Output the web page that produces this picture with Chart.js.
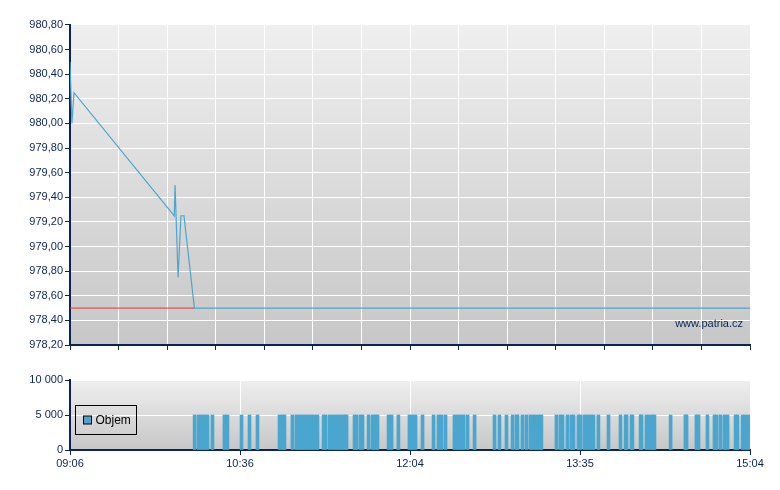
<!DOCTYPE html>
<html><head><meta charset="utf-8">
<script src="https://cdn.jsdelivr.net/npm/chart.js@4/dist/chart.umd.min.js"></script>
<style>
html,body{margin:0;padding:0;background:#fff;width:780px;height:490px;overflow:hidden}
#w1{position:absolute;left:0;top:0;width:780px;height:360px}
#w2{position:absolute;left:0;top:360px;width:780px;height:130px}
</style></head><body>
<div id="w1"><canvas id="c1"></canvas></div>
<div id="w2"><canvas id="c2"></canvas></div>
<script>
// session: minutes after 09:06
const sessionMinutes = 358;
const timeLabels = ["09:06","10:36","12:04","13:35","15:04"];
const topGridDivisions = 14;

// price (minutes after 09:06)
const priceTimes  = [0, 1.0, 2.1, 54.9, 55.3, 56.9, 58.4, 60.0, 65.5, 358];
const priceValues = [980.50, 980.00, 980.25, 979.25, 979.50, 978.75, 979.25, 979.25, 978.50, 978.50];
const prevCloseTimes = [0, 65.5];
const prevClose = 978.50;
const priceMin = 978.2, priceMax = 980.8, priceStep = 0.2;

// volume trades (minutes after 09:06)
const volumeTimes = [
 65.6, 67.7, 69.2, 70.8, 72.4, 75.0, 81.3, 82.9, 90.3, 94.5, 98.7,
 110.3, 111.9, 112.9, 117.1, 119.2, 120.8, 122.4, 124.0, 125.6, 127.1, 128.7, 130.3,
 133.5, 134.5, 136.6, 138.2, 139.8, 141.4, 142.9, 144.5, 145.6,
 149.8, 150.8, 152.9, 154.0, 157.2, 159.3, 160.8, 161.9, 167.7, 169.3, 172.9,
 178.7, 180.3, 181.9, 185.6, 191.4, 194.0, 195.6, 197.7,
 202.4, 204.0, 205.6, 207.2, 209.3, 213.0,
 223.5, 226.1, 229.8, 233.0, 235.1, 235.6, 238.2, 240.3,
 242.4, 244.0, 245.6, 247.2, 248.2,
 256.1, 258.2, 259.3, 261.9, 264.0, 265.1, 267.7, 268.8,
 270.9, 272.5, 274.0, 275.6, 278.2, 283.5,
 289.8, 292.5, 293.0, 295.6, 296.1, 300.4, 300.9,
 303.5, 305.1, 306.7, 307.7, 316.2,
 324.0, 324.6, 329.8, 330.9, 335.6, 339.3, 340.4, 342.5,
 344.6, 346.2, 350.4, 351.4, 354.1, 355.6, 357.2
];
const volumeValues = [
 5000,5000,5000,5000,5000,5000,5000,5000,5000,5000,5000,
 5000,5000,5000,5000,5000,5000,5000,5000,5000,5000,5000,5000,
 5000,5000,5000,5000,5000,5000,5000,5000,5000,
 5000,5000,5000,5000,5000,5000,5000,5000,5000,5000,5000,
 5000,5000,5000,5000,5000,5000,5000,5000,
 5000,5000,5000,5000,5000,5000,
 5000,5000,5000,5000,5000,5000,5000,5000,
 5000,5000,5000,5000,5000,
 5000,5000,5000,5000,5000,5000,5000,5000,
 5000,5000,5000,5000,5000,5000,
 5000,5000,5000,5000,5000,5000,5000,
 5000,5000,5000,5000,5000,
 5000,5000,5000,5000,5000,5000,5000,5000,
 5000,5000,5000,5000,5000,5000,5000
];
const volMax = 10000, volStep = 5000;
const volumeLabel = "Objem";
const watermark = "www.patria.cz";

const NAVY = '#0b2458';
const LINE = '#4aa6cf';
const FONT = {family:'"Liberation Sans", Arial, sans-serif', size:11};

const bgPlugin = {
  id:'bg',
  beforeDraw(chart){
    const {ctx, chartArea:a} = chart;
    const g = ctx.createLinearGradient(0,a.top,0,a.bottom);
    g.addColorStop(0,'#efefef'); g.addColorStop(1,'#c7c7c7');
    ctx.save(); ctx.fillStyle=g; ctx.fillRect(a.left,a.top,a.right-a.left,a.bottom-a.top); ctx.restore();
  }
};

const wmPlugin = {
  id:'wm',
  afterDatasetsDraw(chart){
    const {ctx, chartArea:a} = chart;
    ctx.save();
    ctx.font = '11px "Liberation Sans", Arial, sans-serif';
    ctx.fillStyle = NAVY; ctx.textAlign='right'; ctx.textBaseline='alphabetic';
    ctx.fillText(watermark, a.right-7, a.bottom-18);
    ctx.restore();
  }
};

const legendPlugin = {
  id:'lg',
  afterDraw(chart){
    const {ctx, chartArea:a} = chart;
    ctx.save();
    const x = a.left+5.5, y = a.top+25.5;
    ctx.strokeStyle='#000'; ctx.lineWidth=1;
    ctx.strokeRect(x, y, 61, 29);
    ctx.fillStyle=LINE; ctx.fillRect(x+8, y+10.5, 8, 8);
    ctx.strokeRect(x+8, y+10.5, 8, 8);
    ctx.font='12px "Liberation Sans", Arial, sans-serif';
    ctx.fillStyle='#000'; ctx.textBaseline='middle'; ctx.textAlign='left';
    ctx.fillText(chart.data.datasets[0].label, x+20, y+15);
    ctx.restore();
  }
};

function pts(xs, ys){ return xs.map((x,i)=>({x:x, y:ys[i]})); }

new Chart(document.getElementById('c1'), {
  type:'line',
  data:{datasets:[
    {label:'Cena', data:pts(priceTimes, priceValues), borderColor:LINE, borderWidth:1.2, pointRadius:0, tension:0, fill:false},
    {label:'Předchozí závěr', data:pts(prevCloseTimes, prevCloseTimes.map(()=>prevClose)), borderColor:'#e53030', borderWidth:1, pointRadius:0, fill:false}
  ]},
  options:{
    responsive:true, maintainAspectRatio:false, animation:false,
    layout:{padding:{top:25,right:30,left:0,bottom:0}},
    plugins:{legend:{display:false}, tooltip:{enabled:false}},
    scales:{
      x:{type:'linear', min:0, max:sessionMinutes,
        afterBuildTicks(s){ const t=[]; for(let i=0;i<=topGridDivisions;i++) t.push({value:i*sessionMinutes/topGridDivisions}); s.ticks=t; },
        afterFit(s){ s.height=15; },
        ticks:{callback:()=>'', font:FONT, color:NAVY},
        grid:{color:'#ffffff', lineWidth:1, tickColor:NAVY, tickLength:5},
        border:{color:NAVY, width:2}
      },
      y:{type:'linear', min:priceMin, max:priceMax,
        afterBuildTicks(s){ const t=[]; const n=Math.round((priceMax-priceMin)/priceStep); for(let i=0;i<=n;i++) t.push({value:priceMin+i*priceStep}); s.ticks=t; },
        afterFit(s){ s.width=70; },
        ticks:{font:FONT, color:NAVY, padding:2, callback:v=>v.toFixed(2).replace('.',',')},
        grid:{color:'#ffffff', lineWidth:1, tickColor:NAVY, tickLength:5},
        border:{color:NAVY, width:2}
      }
    }
  },
  plugins:[bgPlugin, wmPlugin]
});

new Chart(document.getElementById('c2'), {
  type:'bar',
  data:{datasets:[
    {label:volumeLabel, data:pts(volumeTimes, volumeValues), backgroundColor:LINE, borderWidth:0, barThickness:3}
  ]},
  options:{
    responsive:true, maintainAspectRatio:false, animation:false,
    layout:{padding:{top:20,right:30,left:0,bottom:0}},
    plugins:{legend:{display:false}, tooltip:{enabled:false}},
    scales:{
      x:{type:'linear', min:0, max:sessionMinutes, offset:false,
        afterBuildTicks(s){ s.ticks = timeLabels.map((l,i)=>({value:i*sessionMinutes/(timeLabels.length-1)})); },
        afterFit(s){ s.height=40; },
        ticks:{font:FONT, color:NAVY, padding:2, maxRotation:0, autoSkip:false, callback:(v,i)=>timeLabels[i]},
        grid:{color:'#ffffff', lineWidth:1, tickColor:NAVY, tickLength:5, offset:false},
        border:{color:NAVY, width:2}
      },
      y:{type:'linear', min:0, max:volMax,
        afterBuildTicks(s){ const t=[]; for(let v=0; v<=volMax; v+=volStep) t.push({value:v}); s.ticks=t; },
        afterFit(s){ s.width=70; },
        ticks:{font:FONT, color:NAVY, padding:2, callback:v=>String(v).replace(/\B(?=(\d{3})+(?!\d))/g,' ')},
        grid:{color:'#ffffff', lineWidth:1, tickColor:NAVY, tickLength:5},
        border:{color:NAVY, width:2}
      }
    }
  },
  plugins:[bgPlugin, legendPlugin]
});
</script>
</body></html>
